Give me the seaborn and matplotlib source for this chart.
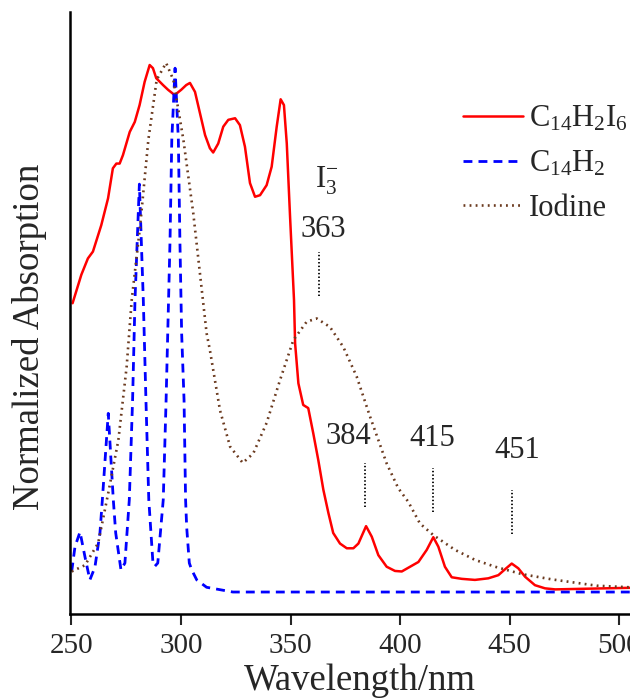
import numpy as np
import pandas as pd
import matplotlib
matplotlib.use("Agg")
import matplotlib.pyplot as plt
import seaborn as sns

# ---------------- data ----------------
red_x = [250.5, 254.5, 257.5, 259.8, 263.6, 266.7, 268.9, 270.5, 272.0, 273.5,
         276.6, 278.9, 281.1, 283.4, 285.7, 287.2, 288.7, 291.8, 294.1, 297.1,
         300.1, 302.4, 304.1, 306.4, 308.7, 311.0, 313.2, 314.7, 317.0, 319.3,
         321.6, 324.7, 326.9, 329.2, 331.5, 333.8, 336.1, 339.1, 341.4, 343.7,
         345.5, 347.0, 348.3, 349.8, 351.6, 352.1, 353.6, 355.8, 358.1, 360.4,
         362.7, 365.0, 367.3, 369.5, 372.6, 375.7, 378.7, 381.0, 384.5, 387.1,
         390.1, 393.9, 397.7, 400.8, 404.6, 408.4, 412.2, 415.2, 417.5, 420.5,
         423.6, 428.2, 434.2, 440.3, 444.9, 447.9, 451.0, 454.0, 457.1, 461.6,
         466.2, 470.8, 505.0]
red_y = [0.548, 0.602, 0.633, 0.646, 0.696, 0.747, 0.804, 0.813, 0.813, 0.829,
         0.873, 0.892, 0.924, 0.968, 1.000, 0.994, 0.975, 0.962, 0.953, 0.943,
         0.953, 0.962, 0.966, 0.949, 0.908, 0.867, 0.842, 0.834, 0.851, 0.883,
         0.896, 0.899, 0.886, 0.845, 0.776, 0.750, 0.753, 0.772, 0.807, 0.883,
         0.935, 0.924, 0.851, 0.712, 0.554, 0.472, 0.396, 0.355, 0.349, 0.301,
         0.250, 0.194, 0.150, 0.112, 0.092, 0.083, 0.083, 0.092, 0.125, 0.105,
         0.070, 0.048, 0.040, 0.039, 0.048, 0.057, 0.080, 0.104, 0.086, 0.048,
         0.028, 0.025, 0.023, 0.026, 0.032, 0.043, 0.054, 0.045, 0.029, 0.013,
         0.007, 0.005, 0.008]

blue_x = [250.1, 251.6, 253.9, 256.2, 258.4, 260.7, 263.0, 264.1, 266.8, 269.1,
          270.2, 272.6, 274.4, 276.4, 277.9, 279.0, 281.0, 282.8, 284.0, 285.3,
          287.2, 288.1, 289.4, 291.9, 293.2, 295.0, 295.8, 297.3, 298.8, 299.5,
          300.3, 301.4, 302.1, 302.6, 303.8, 304.9, 307.2, 311.7, 323.7, 350.0,
          400.0, 450.0, 505.0]
blue_y = [0.039, 0.086, 0.114, 0.066, 0.023, 0.047, 0.112, 0.175, 0.339, 0.175,
          0.112, 0.042, 0.055, 0.175, 0.364, 0.554, 0.774, 0.554, 0.364, 0.175,
          0.055, 0.049, 0.055, 0.175, 0.364, 0.668, 0.858, 0.994, 0.858, 0.668,
          0.491, 0.364, 0.175, 0.123, 0.055, 0.042, 0.023, 0.009, 0.000, 0.000,
          0.000, 0.000, 0.000]

iod_x = [250.1, 256.2, 262.2, 266.8, 271.4, 275.2, 277.5, 281.3, 285.1, 288.9,
         293.2, 296.5, 301.1, 305.6, 309.5, 311.7, 313.2, 317.8, 322.4, 328.2,
         333.0, 339.1, 345.2, 351.3, 357.4, 362.0, 368.0, 374.1, 380.2, 386.3,
         393.9, 399.2, 403.8, 409.1, 415.2, 425.1, 434.2, 443.4, 455.6, 469.3,
         489.8, 505.0]
iod_y = [0.039, 0.051, 0.093, 0.188, 0.288, 0.428, 0.554, 0.693, 0.858, 0.972,
         1.004, 0.972, 0.858, 0.719, 0.573, 0.491, 0.459, 0.345, 0.276, 0.245,
         0.263, 0.321, 0.402, 0.478, 0.513, 0.519, 0.503, 0.465, 0.409, 0.333,
         0.244, 0.197, 0.171, 0.130, 0.108, 0.080, 0.061, 0.048, 0.034, 0.024,
         0.012, 0.009]

series_names = [r"C$_{14}$H$_2$I$_6$", r"C$_{14}$H$_2$", "Iodine"]

peak_pos = [363, 384, 415, 451]
peak_labels = ["363", "384", "415", "451"]
peak_line_lo = [0.562, 0.162, 0.152, 0.110]
peak_line_hi = [0.646, 0.244, 0.235, 0.194]
label_x = [365.0, 376.5, 414.7, 453.5]
label_y = [0.687, 0.295, 0.292, 0.269]

xticks = [250, 300, 350, 400, 450, 500]

# ---------------- style ----------------
sns.set_style("ticks")
plt.rcParams["font.family"] = ["Liberation Serif", "DejaVu Serif"]
plt.rcParams["mathtext.fontset"] = "custom"
plt.rcParams["mathtext.rm"] = "Liberation Serif"
plt.rcParams["mathtext.it"] = "Liberation Serif:italic"
plt.rcParams["mathtext.default"] = "regular"

fig = plt.figure(figsize=(6.30, 6.99), dpi=100)
ax = fig.add_axes([69.5 / 630, 85 / 699, 1 - 69.5 / 630, (614 - 12) / 699])

df = pd.concat([
    pd.DataFrame({"x": red_x, "y": red_y, "s": series_names[0]}),
    pd.DataFrame({"x": blue_x, "y": blue_y, "s": series_names[1]}),
    pd.DataFrame({"x": iod_x, "y": iod_y, "s": series_names[2]}),
])

line_widths = [1.8, 2.0, 1.9]
sns.lineplot(data=df, x="x", y="y", hue="s", style="s",
             palette={series_names[0]: "#ff0000", series_names[1]: "#0000ff",
                      series_names[2]: "#6b3a1f"},
             dashes={series_names[0]: "", series_names[1]: (3.2, 2.2),
                     series_names[2]: (0.7, 1.6)},
             linewidth=1.8, ax=ax, legend=True)
for line, lw in zip(ax.get_lines()[:3], line_widths):
    line.set_linewidth(lw)

# annotations
for p, lo, hi in zip(peak_pos, peak_line_lo, peak_line_hi):
    ax.plot([p, p], [lo, hi], color="black", lw=1.3, linestyle=(0, (0.8, 1.2)))
for lx, ly, t in zip(label_x, label_y, peak_labels):
    ax.text(lx, ly, t, ha="center", va="center", fontsize=22)
ax.text(366.5, 0.78, r"I$_3^{-}$", ha="center", va="center", fontsize=22)

ax.set_xlim(249.1, 505.0)
ax.set_ylim(-0.0417, 1.1006)
ax.set_xticks(xticks)
ax.set_xticklabels([str(t) for t in xticks], fontsize=21)
ax.set_yticks([])
ax.tick_params(axis="x", direction="out", length=8, width=1.5, pad=6)
for sp in ["top", "right"]:
    ax.spines[sp].set_visible(False)
for sp in ["left", "bottom"]:
    ax.spines[sp].set_linewidth(1.8)
    ax.spines[sp].set_color("black")

ax.set_xlabel("Wavelength/nm", fontsize=26.5)
ax.xaxis.set_label_coords((360 - 69.5) / 560.5, -0.082)
ax.set_ylabel("Normalized Absorption", fontsize=26.5)
ax.yaxis.set_label_coords(-0.041, 0.46)

leg = ax.legend(loc="upper left", bbox_to_anchor=(463 / 630, (699 - 104) / 699),
                bbox_transform=fig.transFigure, frameon=False, fontsize=22,
                handlelength=1.95, handletextpad=0.2, labelspacing=0.5,
                borderpad=0, borderaxespad=0)
for h, lw in zip(leg.get_lines(), line_widths):
    h.set_linewidth(lw)

fig.savefig("out.png", dpi=100)
